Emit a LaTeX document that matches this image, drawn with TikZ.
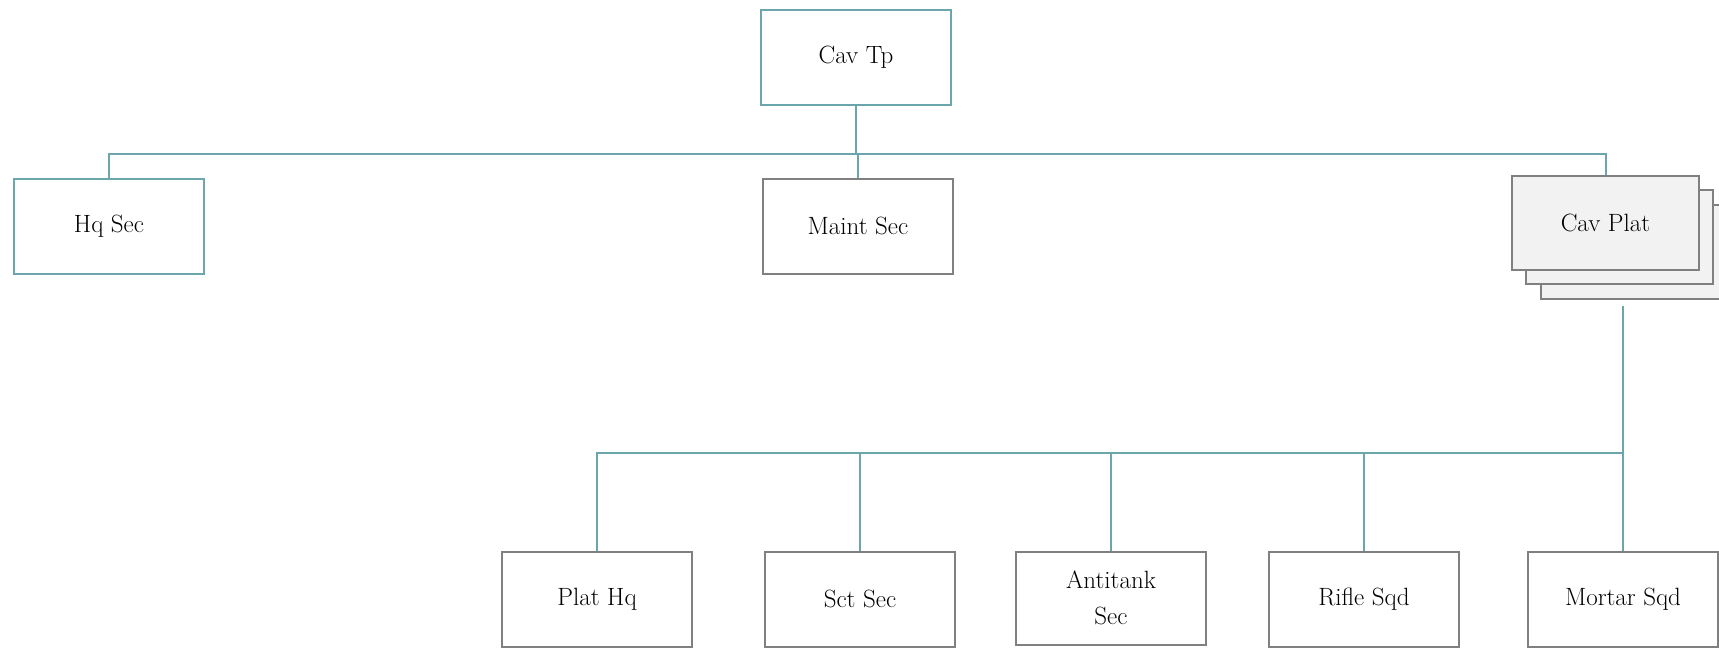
\documentclass[tikz,border=0pt]{standalone}
\begin{document}
\begin{tikzpicture}[x=1pt,y=1pt,
  every node/.style={font=\fontsize{25}{36}\selectfont},
  box/.style={draw=boxgray, line width=2pt, minimum width=190pt, minimum height=95pt, inner sep=0pt, align=center, fill=white},
  tealbox/.style={box, draw=linecol},
  stackbox/.style={box, fill=platfill, minimum width=187pt, minimum height=94pt},
  conn/.style={draw=linecol, line width=2pt}
]
\definecolor{linecol}{RGB}{106,166,171}
\definecolor{boxgray}{RGB}{128,128,128}
\definecolor{platfill}{RGB}{242,242,242}
\useasboundingbox (0,0) rectangle (1719,-649);

% top level
\node[tealbox] (cavtp) at (856,-57) {Cav Tp};
\node[tealbox] (hq) at (109,-226) {Hq Sec};
\node[box] (maint) at (858,-226) {Maint Sec};

% stacked Cav Plat
\node[stackbox] (cp3) at (1634,-252) {};
\node[stackbox] (cp2) at (1619.5,-237) {};
\node[stackbox] (cavplat) at (1605.5,-222.5) {Cav Plat};

% bottom level
\node[box] (plathq) at (597,-599) {Plat Hq};
\node[box] (sct) at (860,-599) {Sct Sec};
\node[box, minimum height=93pt] (anti) at (1111,-598) {Antitank\\Sec};
\node[box] (rifle) at (1364,-599) {Rifle Sqd};
\node[box] (mortar) at (1623,-599) {Mortar Sqd};

% connectors top
\coordinate (j1) at (856,-153.5);
\draw[conn] (cavtp.south) -- (j1);
\draw[conn] (hq.north) -- (hq.north |- j1) -- (cavplat.north |- j1) -- (cavplat.north);
\draw[conn] (maint.north) -- (maint.north |- j1);

% connectors bottom
\coordinate (cpb) at (1623,-306);
\coordinate (j2) at (1623,-453);
\draw[conn] (cpb) -- (mortar.north);
\draw[conn] (plathq.north) -- (plathq.north |- j2) -- (j2);
\draw[conn] (sct.north) -- (sct.north |- j2);
\draw[conn] (anti.north) -- (anti.north |- j2);
\draw[conn] (rifle.north) -- (rifle.north |- j2);
\end{tikzpicture}
\end{document}
